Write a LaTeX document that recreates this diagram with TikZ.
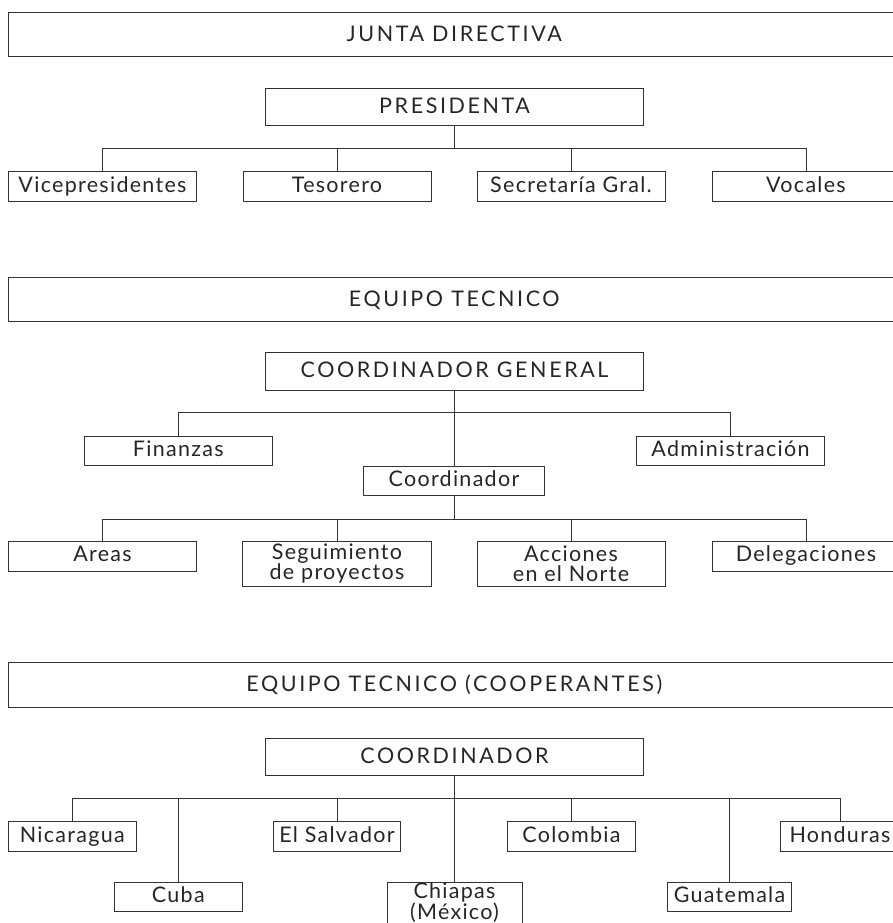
\documentclass[tikz,border=0pt]{standalone}
\usepackage{fontspec}
\setmainfont{Lato}[LetterSpace=6]
\newfontfamily\capsfont{Lato}[LetterSpace=12]
\begin{document}
\begin{tikzpicture}[x=1pt,y=-1pt,
  base/.style={draw=black!80, line width=0.9pt, inner sep=0pt, align=center,
    text=black!85, font=\fontsize{21.5}{20}\selectfont},
  box/.style={base, text height=16.5pt, text depth=5pt},
  twobox/.style={base},
  capsbox/.style={base, text height=17pt, text depth=4pt, font=\capsfont\fontsize{21.5}{20}\selectfont},
  conn/.style={draw=black!80, line width=0.8pt}]
\clip (0,0) rectangle (893,923);
\fill[white] (0,0) rectangle (893,923);
% ---------- Section 1
\node[capsbox, minimum width=891.5pt, minimum height=44pt] (big1) at (454.25,34.7) {JUNTA DIRECTIVA};
\node[capsbox, minimum width=378pt, minimum height=36.7pt] (pres) at (454.5,106.65) {PRESIDENTA};
\node[box, minimum width=188pt, minimum height=29.3pt] (vice) at (102.5,186.35) {Vicepresidentes};
\node[box, minimum width=188pt, minimum height=29.3pt] (teso) at (337,186.35) {Tesorero};
\node[box, minimum width=188pt, minimum height=29.3pt] (secr) at (571,186.35) {Secretaría Gral.};
\node[box, minimum width=188pt, minimum height=29.3pt] (voca) at (806,186.35) {Vocales};
\coordinate (j1) at (454.5,148.3);
\draw[conn] (pres.south) -- (j1);
\draw[conn] (vice.north) -- (vice.north |- j1) -- (voca.north |- j1) -- (voca.north);
\draw[conn] (teso.north) -- (teso.north |- j1);
\draw[conn] (secr.north) -- (secr.north |- j1);
% ---------- Section 2
\node[capsbox, minimum width=891.5pt, minimum height=44.4pt] (big2) at (454.25,299.5) {EQUIPO TECNICO};
\node[capsbox, minimum width=378pt, minimum height=37.3pt] (cgen) at (454.5,371.35) {COORDINADOR GENERAL};
\node[box, minimum width=188.7pt, minimum height=29.7pt] (fin) at (178.3,450.85) {Finanzas};
\node[box, minimum width=188.4pt, minimum height=29.7pt] (adm) at (730.5,450.85) {Administración};
\node[box, minimum width=181.4pt, minimum height=29.7pt] (coor) at (454,480.85) {Coordinador};
\coordinate (j2) at (454.5,412.7);
\draw[conn] (cgen.south) -- (cgen.south |- coor.north);
\draw[conn] (fin.north) -- (fin.north |- j2) -- (adm.north |- j2) -- (adm.north);
\node[box, minimum width=188pt, minimum height=30pt] (areas) at (102.5,556) {Areas};
\node[twobox, minimum width=189pt, minimum height=45.7pt] (segu) at (337,563.85) {Seguimiento\\de proyectos};
\node[twobox, minimum width=188pt, minimum height=45.7pt] (acci) at (571,563.85) {Acciones\\en el Norte};
\node[box, minimum width=188pt, minimum height=30pt] (dele) at (806,556) {Delegaciones};
\coordinate (j3) at (454,519);
\draw[conn] (coor.south) -- (j3);
\draw[conn] (areas.north) -- (areas.north |- j3) -- (dele.north |- j3) -- (dele.north);
\draw[conn] (segu.north) -- (segu.north |- j3);
\draw[conn] (acci.north) -- (acci.north |- j3);
% ---------- Section 3
\node[capsbox, minimum width=891.5pt, minimum height=44.6pt] (big3) at (454.25,685) {EQUIPO TECNICO (COOPERANTES)};
\node[capsbox, minimum width=378pt, minimum height=37.4pt] (coo3) at (454.5,757) {COORDINADOR};
\node[box, minimum width=128pt, minimum height=29.3pt] (nica) at (72.3,836.35) {Nicaragua};
\node[box, minimum width=127.7pt, minimum height=29.3pt] (elsa) at (337,836.35) {El Salvador};
\node[box, minimum width=128.4pt, minimum height=29.3pt] (colo) at (571.5,836.35) {Colombia};
\node[box, minimum width=120pt, minimum height=29.3pt] (hond) at (840,836.35) {Honduras};
\node[box, minimum width=128pt, minimum height=29.4pt] (cuba) at (178.3,897) {Cuba};
\node[twobox, minimum width=135pt, minimum height=48.7pt] (chia) at (454.5,906.65) {};
\node[twobox, draw=none, font=\fontsize{21.5}{19}\selectfont] (chiatext) at (454.5,902.5) {Chiapas\\(México)};
\node[box, minimum width=124pt, minimum height=29.4pt] (guat) at (729.5,897) {Guatemala};
\coordinate (j4) at (454.5,798.5);
\draw[conn] (coo3.south) -- (chia.north);
\draw[conn] (nica.north) -- (nica.north |- j4) -- (hond.north |- j4) -- (hond.north);
\draw[conn] (cuba.north) -- (cuba.north |- j4);
\draw[conn] (elsa.north) -- (elsa.north |- j4);
\draw[conn] (colo.north) -- (colo.north |- j4);
\draw[conn] (guat.north) -- (guat.north |- j4);
\end{tikzpicture}
\end{document}
